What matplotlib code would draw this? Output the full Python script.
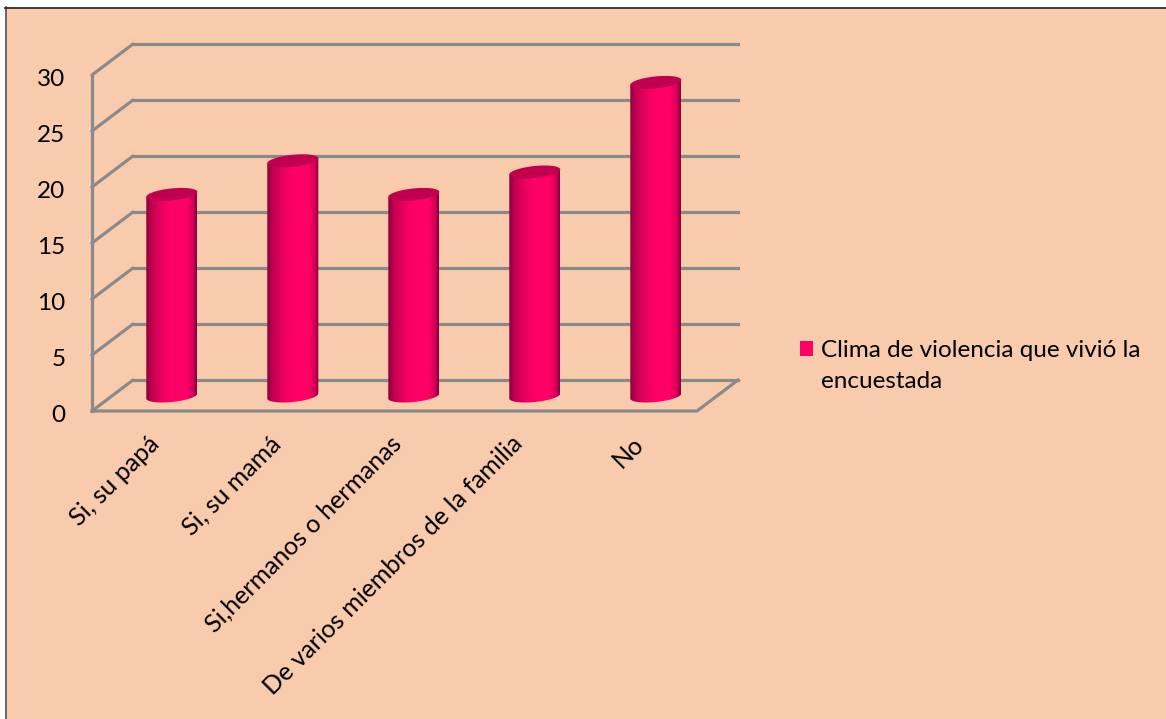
import matplotlib

matplotlib.use("Agg")
import matplotlib.pyplot as plt
import numpy as np
from matplotlib.colors import LinearSegmentedColormap
from matplotlib.patches import Patch, Polygon, Rectangle
from matplotlib.transforms import ScaledTranslation

categories = ["Si, su papá", "Si, su mamá", "Si,hermanos o hermanas",
              "De varios miembros de la familia", "No"]
values = [18, 21, 18, 20, 28]
series_name = "Clima de violencia que vivió la\nencuestada"
y_ticks = [0, 5, 10, 15, 20, 25, 30]

W, H = 1166, 719
BG = "#F8CBAD"
GRID = "#8A8A8A"
FS = 17.5
plt.rcParams["font.family"] = ["Lato", "DejaVu Sans"]

fig = plt.figure(figsize=(W / 100, H / 100), dpi=100, facecolor="white")

# page background with the dark top/left border
fig.add_artist(Rectangle((5 / W, 0), 1, 1 - 7 / H, transform=fig.transFigure,
                         facecolor=BG, edgecolor="none", zorder=-2))
fig.add_artist(plt.Line2D([5.5 / W, 5.5 / W], [0, 1 - 7 / H], color="#555555", lw=1.2, zorder=-1))
fig.add_artist(plt.Line2D([5 / W, 1], [1 - 7.5 / H, 1 - 7.5 / H], color="#222222", lw=1.2, zorder=-1))

# axes = front plane of the 3D box
ax = fig.add_axes([92 / W, 1 - 411 / H, 605 / W, 336 / H])
ax.patch.set_alpha(0)
ax.set_xlim(0, len(categories))
ax.set_ylim(0, 30)
for s in ax.spines.values():
    s.set_visible(False)

dx = 41 / 121   # depth in category units
dy = 31 / 11.2  # depth in value units
lw = 2.3

for v in y_ticks:
    ax.plot([0, dx], [v, v + dy], color=GRID, lw=lw, clip_on=False, zorder=1, solid_capstyle="round")
    ax.plot([dx, len(categories) + dx], [v + dy, v + dy], color=GRID, lw=lw, clip_on=False, zorder=1)
ax.plot([0, 0], [0, 30], color=GRID, lw=lw, clip_on=False, zorder=1)
ax.plot([0, len(categories), len(categories) + dx], [0, 0, dy], color=GRID, lw=lw,
        clip_on=False, zorder=1)

# cylinders
cyl = LinearSegmentedColormap.from_list(
    "cyl", [(0, "#8E0040"), (0.12, "#C40050"), (0.35, "#F00060"), (0.5, "#FF0066"),
            (0.8, "#FF0066"), (0.93, "#D00056"), (1, "#85003C")])
ramp = np.linspace(0, 1, 128).reshape(1, -1)
rx = 25.5 / 121
ry = 6 / 11.2
tilt = 2.5 / 11.2
base = 15 / 11.2
t = np.linspace(0, 2 * np.pi, 121)

for i, v in enumerate(values):
    cx = i + 0.5 + dx / 2 - 0.01
    ex = rx * np.cos(t)
    ey = ry * np.sin(t) + tilt * np.cos(t)
    top = base + v
    # body outline: lower arc of the base, then up to the top ellipse's sides
    arc = t[60:121]
    bx = cx + rx * np.cos(arc)
    by = base + ry * np.sin(arc) + tilt * np.cos(arc)
    outline = np.column_stack([np.r_[bx, cx + rx, cx - rx],
                               np.r_[by, top + tilt, top - tilt]])
    body = Polygon(outline, closed=True, transform=ax.transData, facecolor="none", edgecolor="none")
    ax.add_patch(body)
    im = ax.imshow(ramp, extent=[cx - rx, cx + rx, base - ry - tilt, top + ry + tilt],
                   cmap=cyl, aspect="auto", zorder=3, interpolation="bilinear")
    im.set_clip_path(body)
    ax.add_patch(Polygon(np.column_stack([cx + ex, top + ey]), closed=True,
                         facecolor="#C0004F", edgecolor="none", zorder=4))
ax.set_xlim(0, len(categories))
ax.set_ylim(0, 30)

ax.set_yticks(y_ticks)
ax.set_yticklabels([str(v) for v in y_ticks], fontsize=FS)
ax.tick_params(axis="y", length=0, pad=19)
down = ScaledTranslation(0, -2 / 72, fig.dpi_scale_trans)
for label in ax.get_yticklabels():
    label.set_transform(label.get_transform() + down)
ax.set_xticks(np.arange(len(categories)) + 0.46)
ax.set_xticklabels(categories, rotation=45, ha="right", rotation_mode="anchor", fontsize=18)
ax.tick_params(axis="x", length=0, pad=15)

leg = fig.legend(handles=[Patch(facecolor="#FF0066", edgecolor="none", label=series_name)],
                 loc="upper left", bbox_to_anchor=(800 / W, 1 - 340 / H), frameon=False,
                 fontsize=FS, handlelength=0.53, handleheight=0.53, handletextpad=0.32,
                 borderpad=0, borderaxespad=0, labelspacing=0)
leg.get_texts()[0].set_linespacing(1.6)
square = leg.get_patches()[0]
square.set_y(square.get_y() + 12.5)  # square sits beside the first line of text

fig.savefig("out.png", dpi=100, facecolor="white")
plt.close(fig)
